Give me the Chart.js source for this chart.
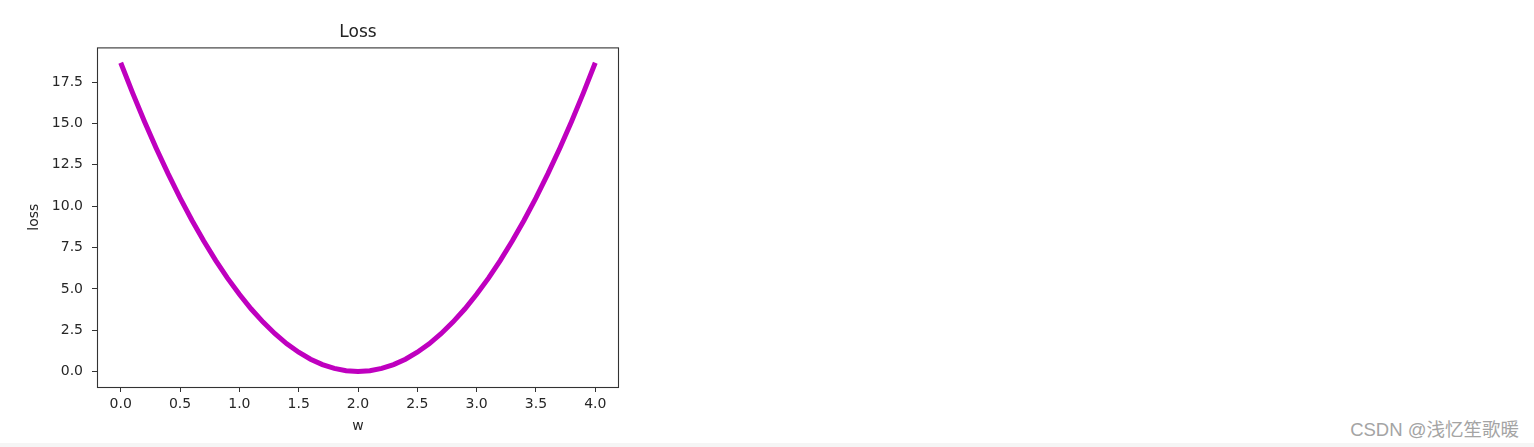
<!DOCTYPE html>
<html>
<head>
<meta charset="utf-8">
<script src="https://cdn.jsdelivr.net/npm/chart.js@4"></script>
<style>
  html, body { margin: 0; padding: 0; background: #fff; }
  body { width: 1534px; height: 447px; position: relative; overflow: hidden; }
  #wrap { position: absolute; left: 0; top: 0; width: 700px; height: 447px; }
  #mark { position: absolute; right: 15px; top: 415px; line-height: 20px; font: 18.5px "Liberation Sans", "Noto Sans CJK SC", sans-serif; color: #a4a4a4; }
  #strip { position: absolute; left: 0; bottom: 0; width: 1534px; height: 4px; background: #f5f5f5; }
</style>
</head>
<body>
<div id="wrap"><canvas id="lossChart" width="700" height="447"></canvas></div>
<div id="mark">CSDN @浅忆笙歌暖</div>
<div id="strip"></div>
<script>
// w values and the loss
const wValues = [0.0, 0.1, 0.2, 0.3, 0.4, 0.5, 0.6, 0.7, 0.8, 0.9, 1.0,
                 1.1, 1.2, 1.3, 1.4, 1.5, 1.6, 1.7, 1.8, 1.9, 2.0,
                 2.1, 2.2, 2.3, 2.4, 2.5, 2.6, 2.7, 2.8, 2.9, 3.0,
                 3.1, 3.2, 3.3, 3.4, 3.5, 3.6, 3.7, 3.8, 3.9, 4.0];
const lossValues = [18.67, 16.85, 15.12, 13.49, 11.95, 10.5, 9.15, 7.89, 6.72, 5.65, 4.67,
                    3.78, 2.99, 2.29, 1.68, 1.17, 0.75, 0.42, 0.19, 0.05, 0.0,
                    0.05, 0.19, 0.42, 0.75, 1.17, 1.68, 2.29, 2.99, 3.78, 4.67,
                    5.65, 6.72, 7.89, 9.15, 10.5, 11.95, 13.49, 15.12, 16.85, 18.67];
const xTicks = [0.0, 0.5, 1.0, 1.5, 2.0, 2.5, 3.0, 3.5, 4.0];
const yTicks = [0.0, 2.5, 5.0, 7.5, 10.0, 12.5, 15.0, 17.5];

const points = wValues.map((w, i) => ({ x: w, y: lossValues[i] }));
const font = { family: 'DejaVu Sans', size: 14 };

// matplotlib-like box round the axes
const frame = {
  id: 'frame',
  afterDraw(chart) {
    const a = chart.chartArea, c = chart.ctx;
    c.save();
    c.strokeStyle = '#333';
    c.lineWidth = 1.1;
    c.strokeRect(a.left + 0.5, a.top + 0.5, a.right - a.left - 1, a.bottom - a.top);
    c.restore();
  }
};

new Chart(document.getElementById('lossChart'), {
  type: 'line',
  data: {
    datasets: [{
      data: points,
      borderColor: '#bf00bf',
      borderWidth: 5,
      borderCapStyle: 'butt',
      pointRadius: 0,
      tension: 0
    }]
  },
  options: {
    responsive: false,
    animation: false,
    layout: { padding: { left: 0, right: 81, top: 0, bottom: 0 } },
    plugins: {
      legend: { display: false },
      tooltip: { enabled: false },
      title: {
        display: true,
        text: 'Loss',
        fullSize: false,
        color: '#222',
        font: { family: 'DejaVu Sans', size: 17, weight: 'normal' },
        padding: { top: 22, bottom: 5 }
      }
    },
    scales: {
      x: {
        type: 'linear',
        min: -0.2,
        max: 4.2,
        afterFit: s => { s.height = 60; },
        afterBuildTicks: s => { s.ticks = xTicks.map(v => ({ value: v })); },
        ticks: { color: '#262626', font, padding: 4, maxRotation: 0, callback: v => v.toFixed(1) },
        grid: { drawOnChartArea: false, drawTicks: true, tickLength: 5, tickColor: '#333' },
        border: { display: false },
        title: { display: true, text: 'w', color: '#262626', font, padding: { top: 0, bottom: 12 } }
      },
      y: {
        min: -0.933,
        max: 19.6,
        afterFit: s => { s.width = 97; },
        afterBuildTicks: s => { s.ticks = yTicks.map(v => ({ value: v })); },
        ticks: { color: '#262626', font, padding: 9, callback: v => v.toFixed(1) },
        grid: { drawOnChartArea: false, drawTicks: true, tickLength: 5, tickColor: '#333' },
        border: { display: false },
        title: { display: true, text: 'loss', color: '#262626', font, padding: { top: 26, bottom: 0 } }
      }
    }
  },
  plugins: [frame]
});
</script>
</body>
</html>
